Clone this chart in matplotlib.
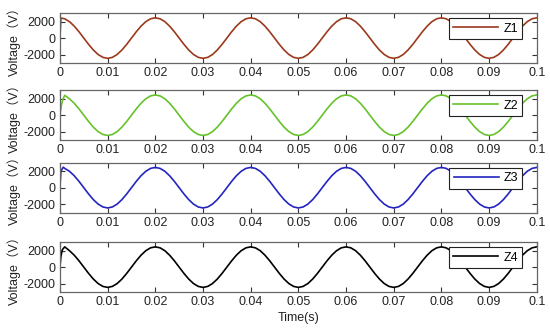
import matplotlib
matplotlib.use("Agg")
import matplotlib.pyplot as plt

plt.rcParams['font.family'] = ['Liberation Sans', 'Noto Sans CJK SC', 'DejaVu Sans']
plt.rcParams['axes.unicode_minus'] = False

base_t = [round(0.001 * k, 4) for k in range(101)]
period = [2450, 2330, 1982, 1440, 757, 0, -757, -1440, -1982, -2330,
          -2450, -2330, -1982, -1440, -757, 0, 757, 1440, 1982, 2330]
steady = period * 5 + [2450]

z1_t = [0, 0.0002] + base_t[1:]
z1_v = [0, 2420] + steady[1:]
z2_t = [0, 0.0003, 0.0006] + base_t[1:]
z2_v = [0, 1200, 1900, 2400] + steady[2:]
z3_t = [0, 0.0002, 0.0007] + base_t[1:]
z3_v = [0, 2000, 2480] + steady[1:]
z4_t = [0, 0.0002, 0.0005] + base_t[1:]
z4_v = [0, 1300, 2100, 2450] + steady[2:]

names = ['Z1', 'Z2', 'Z3', 'Z4']
colors = ['#9A3A1C', '#66C22A', '#2424C0', '#000000']
series_t = [z1_t, z2_t, z3_t, z4_t]
series_v = [z1_v, z2_v, z3_v, z4_v]

xticks = [0, 0.01, 0.02, 0.03, 0.04, 0.05, 0.06, 0.07, 0.08, 0.09, 0.1]
xticklabels = ['0', '0.01', '0.02', '0.03', '0.04', '0.05', '0.06', '0.07', '0.08', '0.09', '0.1']
yticks = [-2000, 0, 2000]

fig = plt.figure(figsize=(5.5, 3.31), dpi=100)
bottoms = [0.810, 0.577, 0.358, 0.118]
left, width, height = 0.109, 0.867, 0.150

for i in range(4):
    ax = fig.add_axes([left, bottoms[i], width, height])
    ax.plot(series_t[i], series_v[i], color=colors[i], lw=1.2, label=names[i])
    ax.set_xlim(0, 0.1)
    ax.set_ylim(-3000, 3000)
    ax.set_xticks(xticks)
    ax.set_xticklabels(xticklabels)
    ax.set_yticks(yticks)
    ax.tick_params(direction='in', top=True, right=True, length=3.5, width=0.8,
                   labelsize=9, colors='#333333', pad=3)
    ax.tick_params(labelcolor='#222222')
    for sp in ax.spines.values():
        sp.set_color('#666666')
        sp.set_linewidth(0.9)
    ax.set_ylabel('Voltage（V）', fontsize=9, color='#222222', labelpad=2)
    leg = ax.legend(loc='upper right', bbox_to_anchor=(0.97, 0.90), borderaxespad=0,
                    fontsize=9, handlelength=3.6, handletextpad=0.4, borderpad=0.35,
                    fancybox=False, framealpha=1, edgecolor='#222222')
    leg.get_frame().set_linewidth(0.8)
    if i == 3:
        ax.set_xlabel('Time(s)', fontsize=9, color='#222222', labelpad=3)

fig.savefig('out.png', dpi=100)
